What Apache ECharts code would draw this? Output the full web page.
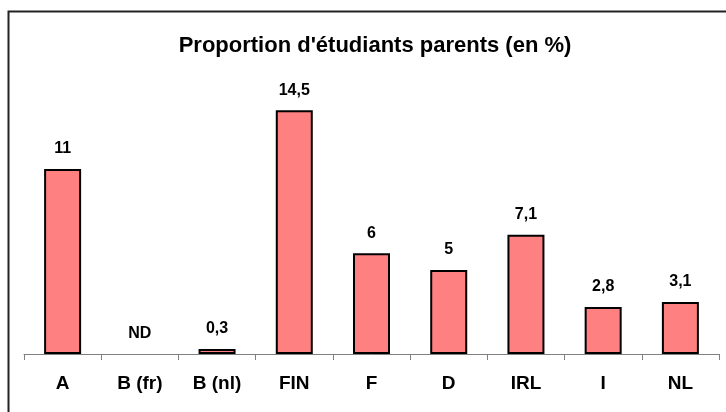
<!DOCTYPE html>
<html>
<head>
<meta charset="utf-8">
<script src="https://cdn.jsdelivr.net/npm/echarts@6/dist/echarts.min.js"></script>
<style>
  html, body { margin: 0; padding: 0; background: #fff; }
  #chart { width: 726px; height: 412px; }
</style>
</head>
<body>
<div id="chart"></div>
<script>
// données du graphique
const categories = ['A', 'B (fr)', 'B (nl)', 'FIN', 'F', 'D', 'IRL', 'I', 'NL'];
const values = [11, null, 0.3, 14.5, 6, 5, 7.1, 2.8, 3.1]; // null = ND
const missingLabel = 'ND';

const chart = echarts.init(document.getElementById('chart'));

const seriesData = values.map(v => {
  if (v === null) {
    return { value: 0, itemStyle: { borderWidth: 0, color: 'transparent' }, label: { formatter: missingLabel } };
  }
  return v;
});

chart.setOption({
  animation: false,
  backgroundColor: '#fff',
  title: {
    text: "Proportion d'étudiants parents (en %)",
    left: 370,
    top: 30,
    textAlign: 'center',
    textStyle: { fontFamily: 'Liberation Sans, Arial', fontWeight: 'bold', fontSize: 22, color: '#000' }
  },
  graphic: [
    {
      type: 'rect',
      shape: { x: 8.5, y: 11.5, width: 800, height: 500 },
      style: { fill: 'none', stroke: '#222', lineWidth: 2 },
      silent: true
    }
  ],
  grid: { left: 24, right: 7, top: 85, bottom: 58 },
  xAxis: {
    type: 'category',
    data: categories,
    axisLine: { lineStyle: { color: '#808080', width: 1 } },
    axisTick: { show: true, length: 6, lineStyle: { color: '#808080' } },
    axisLabel: { margin: 20, color: '#000', fontFamily: 'Liberation Sans, Arial', fontWeight: 'bold', fontSize: 19 }
  },
  yAxis: {
    type: 'value',
    min: 0,
    max: 16,
    show: false
  },
  series: [
    {
      type: 'bar',
      data: seriesData,
      barWidth: 37,
      itemStyle: { color: '#FF8080', borderColor: '#000', borderWidth: 2 },
      label: {
        show: true,
        position: 'top',
        distance: 12,
        color: '#000',
        fontFamily: 'Liberation Sans, Arial',
        fontWeight: 'bold',
        fontSize: 16,
        formatter: p => String(p.value).replace('.', ',')
      }
    }
  ]
});
</script>
</body>
</html>
